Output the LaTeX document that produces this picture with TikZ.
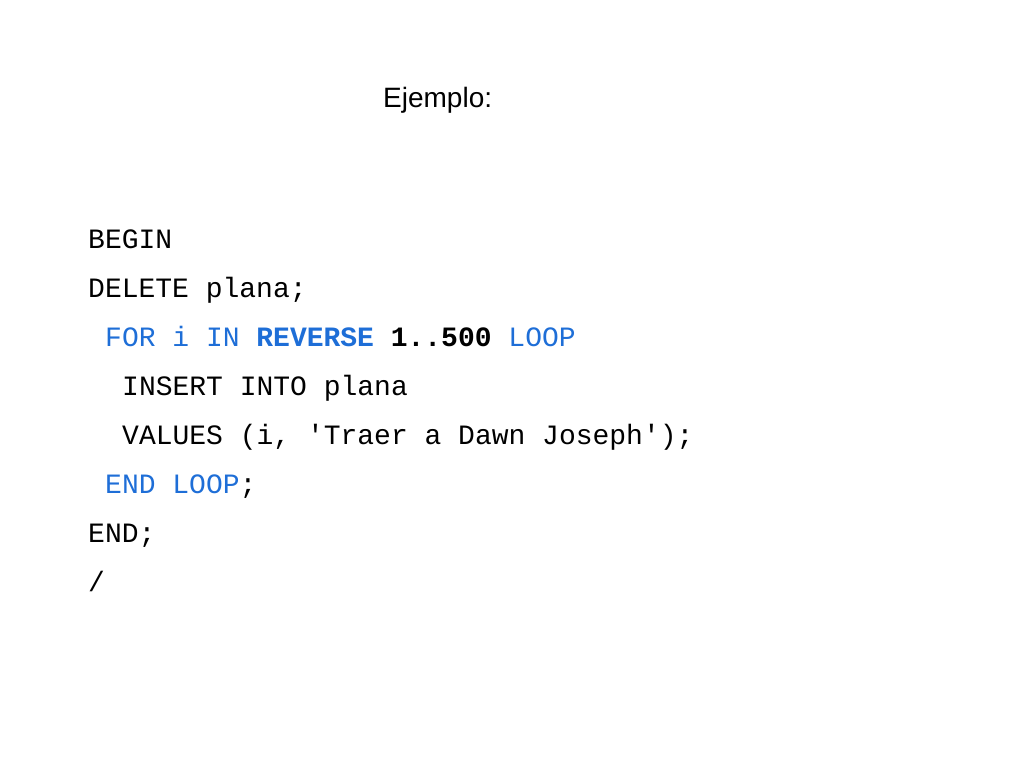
\documentclass[tikz,border=0pt]{standalone}
\usepackage{fontspec}
\setmainfont{Liberation Sans}
\newfontfamily\codefont{Liberation Mono}
\definecolor{kw}{RGB}{30,110,215}
\begin{document}
\begin{tikzpicture}[x=1pt,y=-1pt,
  code/.style={anchor=base west,inner sep=0pt,font=\codefont\fontsize{28}{30}\selectfont}]
\useasboundingbox (0,0) rectangle (1024,768);
\node[anchor=base west,inner sep=0pt,font=\fontsize{28}{30}\selectfont] (title) at (383,107) {Ejemplo:};
\node[code] (l1) at (88,248) {BEGIN};
\node[code] (l2) at (88,297) {DELETE plana;};
\node[code] (l3) at (105,346) {\textcolor{kw}{FOR i IN \textbf{REVERSE}} \textbf{1..500} \textcolor{kw}{LOOP}};
\node[code] (l4) at (122,395) {INSERT INTO plana};
\node[code] (l5) at (122,444) {VALUES (i, 'Traer a Dawn Joseph');};
\node[code] (l6) at (105,493) {\textcolor{kw}{END LOOP};};
\node[code] (l7) at (88,542) {END;};
\node[code] (l8) at (88,591) {/};
\end{tikzpicture}
\end{document}
